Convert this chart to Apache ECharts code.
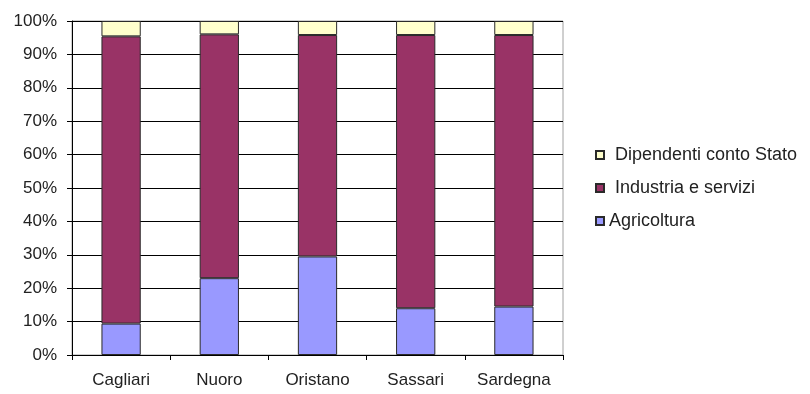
<!DOCTYPE html>
<html>
<head>
<meta charset="utf-8">
<script src="https://cdn.jsdelivr.net/npm/echarts@6/dist/echarts.min.js"></script>
<style>
  html, body { margin: 0; padding: 0; background: #fff; }
  #chart { width: 810px; height: 394px; }
</style>
</head>
<body>
<div id="chart"></div>
<script>
// Province categories and percentage shares of each sector
const provinces = ['Cagliari', 'Nuoro', 'Oristano', 'Sassari', 'Sardegna'];
const agricoltura = [9.4, 23.0, 29.5, 14.0, 14.5];
const industriaServizi = [86.0, 73.0, 66.3, 81.8, 81.3];
const dipendentiStato = [4.6, 4.0, 4.2, 4.2, 4.2];
const yTicks = [0, 10, 20, 30, 40, 50, 60, 70, 80, 90, 100];

const FONT = '"Liberation Sans", Arial, sans-serif';
const barBorder = { borderColor: '#2a2a2a', borderWidth: 1 };

const chart = echarts.init(document.getElementById('chart'), null, { renderer: 'canvas' });

chart.setOption({
  animation: false,
  backgroundColor: '#ffffff',
  grid: {
    left: 72, right: 247, top: 21, bottom: 39,
    show: true, borderColor: '#a0a0a0', borderWidth: 1, backgroundColor: 'transparent'
  },
  legend: {
    orient: 'vertical',
    left: 590, top: 141,
    itemWidth: 8, itemHeight: 8, itemGap: 15,
    icon: 'rect',
    data: [
      'Dipendenti conto Stato',
      'Industria e servizi',
      { name: 'Agricoltura', textStyle: { padding: [0, 0, 0, 0] } }
    ],
    textStyle: { fontFamily: FONT, fontSize: 18, color: '#222', lineHeight: 18, padding: [0, 0, 0, 6] }
  },
  xAxis: {
    type: 'category',
    data: provinces,
    axisLine: { lineStyle: { color: '#000', width: 1 } },
    axisTick: { show: true, length: 5, lineStyle: { color: '#000' } },
    axisLabel: { fontFamily: FONT, fontSize: 17, color: '#222', margin: 17 },
    splitLine: { show: false }
  },
  yAxis: {
    type: 'value',
    min: yTicks[0], max: yTicks[yTicks.length - 1], interval: 10,
    axisLine: { show: true, lineStyle: { color: '#000', width: 1 } },
    axisTick: { show: true, length: 5, lineStyle: { color: '#000' } },
    axisLabel: { fontFamily: FONT, fontSize: 17, color: '#222', margin: 15, formatter: '{value}%' },
    splitLine: { show: true, lineStyle: { color: '#000', width: 1 } }
  },
  series: [
    {
      name: 'Agricoltura', type: 'bar', stack: 'tot', barWidth: '40%',
      data: agricoltura,
      itemStyle: Object.assign({ color: '#9999ff' }, barBorder)
    },
    {
      name: 'Industria e servizi', type: 'bar', stack: 'tot',
      data: industriaServizi,
      itemStyle: Object.assign({ color: '#993366' }, barBorder)
    },
    {
      name: 'Dipendenti conto Stato', type: 'bar', stack: 'tot',
      data: dipendentiStato,
      itemStyle: Object.assign({ color: '#ffffcc' }, barBorder)
    }
  ]
});
</script>
</body>
</html>
